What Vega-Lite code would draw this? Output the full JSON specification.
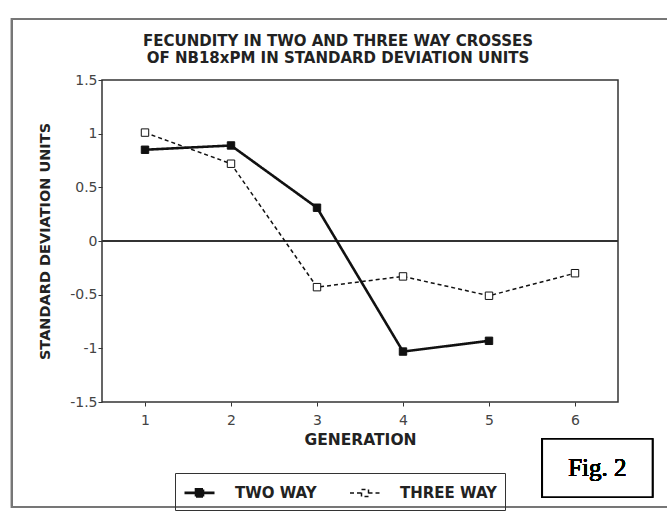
{
  "$schema": "https://vega.github.io/schema/vega-lite/v6.json",
  "autosize": "none",
  "width": 516,
  "height": 322,
  "padding": {"left": 102, "top": 80, "right": 49, "bottom": 109},
  "background": "white",
  "config": {
    "font": "DejaVu Sans",
    "view": {"stroke": "#333", "strokeWidth": 1.5},
    "axis": {"grid": false, "domain": false, "tickColor": "#333", "tickSize": 4, "labelColor": "#444", "labelFontSize": 14, "labelFont": "DejaVu Sans", "titleColor": "#222", "titleFont": "DejaVu Sans", "titleFontWeight": "bold", "titleFontSize": 14.5}
  },
  "title": {
    "text": ["FECUNDITY IN TWO AND THREE WAY CROSSES", "OF NB18xPM IN STANDARD DEVIATION UNITS"],
    "font": "DejaVu Sans",
    "fontSize": 15,
    "fontWeight": "bold",
    "color": "#222",
    "lineHeight": 17,
    "offset": -48,
    "anchor": "middle",
    "dx": -22
  },
  "data": {
    "values": [
      {"generation": 1, "value": 0.85, "series": "TWO WAY"},
      {"generation": 2, "value": 0.89, "series": "TWO WAY"},
      {"generation": 3, "value": 0.31, "series": "TWO WAY"},
      {"generation": 4, "value": -1.03, "series": "TWO WAY"},
      {"generation": 5, "value": -0.93, "series": "TWO WAY"},
      {"generation": 1, "value": 1.01, "series": "THREE WAY"},
      {"generation": 2, "value": 0.72, "series": "THREE WAY"},
      {"generation": 3, "value": -0.43, "series": "THREE WAY"},
      {"generation": 4, "value": -0.33, "series": "THREE WAY"},
      {"generation": 5, "value": -0.51, "series": "THREE WAY"},
      {"generation": 6, "value": -0.30, "series": "THREE WAY"}
    ]
  },
  "layer": [
    {
      "mark": {"type": "rule", "color": "#333", "strokeWidth": 1.3},
      "encoding": {"y": {"datum": 0}}
    },
    {
      "mark": {"type": "line", "color": "#111"},
      "encoding": {
        "x": {"field": "generation", "type": "quantitative", "scale": {"domain": [0.5, 6.5], "nice": false, "zero": false}, "axis": {"values": [1, 2, 3, 4, 5, 6], "format": "d", "title": "GENERATION", "titleFontSize": 15.5, "titlePadding": 5, "labelPadding": 7}},
        "y": {"field": "value", "type": "quantitative", "scale": {"domain": [-1.5, 1.5], "nice": false}, "axis": {"values": [-1.5, -1, -0.5, 0, 0.5, 1, 1.5], "labelExpr": "datum.value + ''", "title": "STANDARD DEVIATION UNITS", "titlePadding": 17, "labelPadding": 1}},
        "strokeDash": {"field": "series", "type": "nominal", "scale": {"domain": ["TWO WAY", "THREE WAY"], "range": [[1, 0], [4, 3]]}},
        "strokeWidth": {"field": "series", "type": "nominal", "scale": {"domain": ["TWO WAY", "THREE WAY"], "range": [2.6, 1.5]}}
      }
    },
    {
      "mark": {"type": "point", "shape": "square", "size": 55, "stroke": "#111", "strokeWidth": 1, "opacity": 1},
      "encoding": {
        "x": {"field": "generation", "type": "quantitative"},
        "y": {"field": "value", "type": "quantitative"},
        "fill": {"field": "series", "type": "nominal", "scale": {"domain": ["TWO WAY", "THREE WAY"], "range": ["#111", "white"]},
          "legend": {
            "title": null, "orient": "none", "legendX": 73, "legendY": 393, "direction": "horizontal",
            "strokeColor": "#333", "padding": 8, "columnPadding": 30,
            "symbolType": "M-1,0H0.15M0.85,0H2M0.15,-0.35H0.85V0.35H0.15Z",
            "symbolSize": 400, "symbolStrokeColor": "#111",
            "labelFont": "DejaVu Sans", "labelFontSize": 15, "labelFontWeight": "bold", "labelColor": "#222", "labelOffset": 29
          }
        }
      }
    },
    {
      "mark": {"type": "rect", "fill": "white", "stroke": "black", "strokeWidth": 1.5, "clip": false},
      "encoding": {"x": {"datum": 5.62}, "x2": {"datum": 6.9}, "y": {"datum": -1.845}, "y2": {"datum": -2.385}}
    },
    {
      "mark": {"type": "text", "font": "Liberation Serif", "fontSize": 25, "fontWeight": "normal", "color": "black", "clip": false},
      "encoding": {"x": {"datum": 6.26}, "y": {"datum": -2.115}, "text": {"value": "Fig. 2"}}
    },
    {
      "mark": {"type": "rect", "fill": null, "stroke": "#777", "strokeWidth": 1.5, "clip": false},
      "encoding": {"x": {"datum": -0.55}, "x2": {"datum": 7.3}, "y": {"datum": 2.07}, "y2": {"datum": -2.48}}
    }
  ]
}
